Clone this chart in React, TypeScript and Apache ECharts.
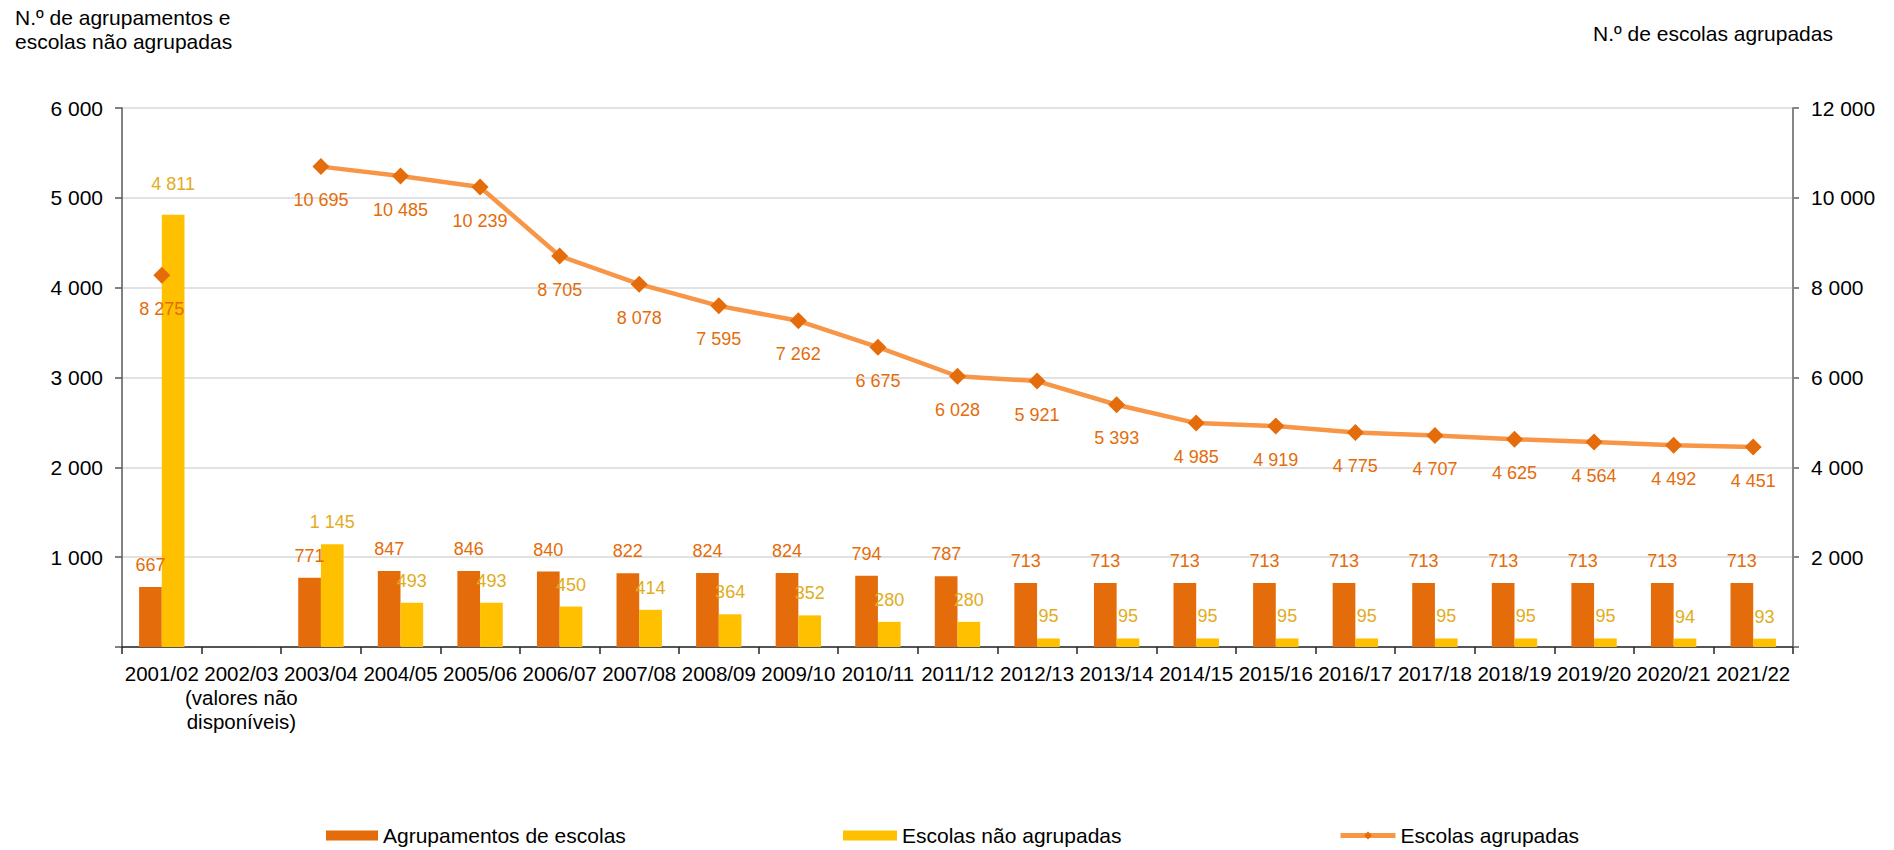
import React, { useEffect, useRef } from 'react';
import * as echarts from 'echarts';

const categories = [
  '2001/02',
  '2002/03\n(valores não\ndisponíveis)',
  '2003/04',
  '2004/05',
  '2005/06',
  '2006/07',
  '2007/08',
  '2008/09',
  '2009/10',
  '2010/11',
  '2011/12',
  '2012/13',
  '2013/14',
  '2014/15',
  '2015/16',
  '2016/17',
  '2017/18',
  '2018/19',
  '2019/20',
  '2020/21',
  '2021/22',
];

const agrupamentos = [667, null, 771, 847, 846, 840, 822, 824, 824, 794, 787, 713, 713, 713, 713, 713, 713, 713, 713, 713, 713];
const escolasNaoAgrupadas = [4811, null, 1145, 493, 493, 450, 414, 364, 352, 280, 280, 95, 95, 95, 95, 95, 95, 95, 95, 94, 93];
const escolasAgrupadas = [8275, null, 10695, 10485, 10239, 8705, 8078, 7595, 7262, 6675, 6028, 5921, 5393, 4985, 4919, 4775, 4707, 4625, 4564, 4492, 4451];

const seriesNames = ['Agrupamentos de escolas', 'Escolas não agrupadas', 'Escolas agrupadas'];
const leftAxisTitle = ['N.º de agrupamentos e', 'escolas não agrupadas'];
const rightAxisTitle = 'N.º de escolas agrupadas';

const FONT = '"Liberation Sans", Arial, sans-serif';
const ORANGE = '#E46C0A';
const YELLOW = '#FFC000';
const YELLOW_LABEL = '#E2AC1C';
const LINE = '#F79646';

const fmt = (v: any) => {
  const n = typeof v === 'object' && v !== null ? v.value : v;
  if (n === null || n === undefined || n === '-') return '';
  return String(n).replace(/\B(?=(\d{3})+(?!\d))/g, ' ');
};

export default function App() {
  const ref = useRef<HTMLDivElement>(null);

  useEffect(() => {
    if (!ref.current) return;
    const chart = echarts.init(ref.current, null, { renderer: 'svg' });

    const naoData = escolasNaoAgrupadas.map((v, i) =>
      i === 0 ? { value: v, label: { distance: 22 } } : v
    );

    const legendText = { fontFamily: FONT, fontSize: 21, color: '#000' };

    const option: any = {
      animation: false,
      backgroundColor: '#ffffff',
      textStyle: { fontFamily: FONT },
      grid: { left: 122, right: 101, top: 108, bottom: 203, containLabel: false },
      legend: [
        {
          data: [seriesNames[0]],
          left: 326,
          top: 825,
          padding: 0,
          itemWidth: 52,
          itemHeight: 10,
          icon: 'rect',
          textStyle: legendText,
        },
        {
          data: [seriesNames[1]],
          left: 843,
          top: 825,
          padding: 0,
          itemWidth: 54,
          itemHeight: 10,
          icon: 'rect',
          textStyle: legendText,
        },
        {
          data: [seriesNames[2]],
          left: 1338,
          top: 825,
          padding: 0,
          itemWidth: 55,
          itemHeight: 10,
          lineStyle: { width: 5, color: LINE },
          textStyle: legendText,
        },
      ],
      xAxis: {
        type: 'category',
        data: categories,
        boundaryGap: true,
        axisLine: { show: true, lineStyle: { color: '#262626', width: 1.5 } },
        axisTick: { show: true, length: 7, lineStyle: { color: '#262626', width: 1.5 } },
        axisLabel: {
          interval: 0,
          margin: 14,
          fontFamily: FONT,
          fontSize: 20.5,
          lineHeight: 24,
          color: '#000',
        },
      },
      yAxis: [
        {
          type: 'value',
          min: 0,
          max: 6000,
          interval: 1000,
          axisLine: { show: true, lineStyle: { color: '#595959', width: 1.5 } },
          axisTick: { show: true, length: 7, lineStyle: { color: '#595959', width: 1.5 } },
          axisLabel: {
            margin: 19,
            fontFamily: FONT,
            fontSize: 21,
            color: '#000',
            formatter: (v: number) => (v === 0 ? '' : fmt(v)),
          },
          splitLine: { show: true, lineStyle: { color: '#D9D9D9', width: 1.5 } },
        },
        {
          type: 'value',
          min: 0,
          max: 12000,
          interval: 2000,
          position: 'right',
          axisLine: { show: true, lineStyle: { color: '#868686', width: 2 } },
          axisTick: { show: true, length: 6, lineStyle: { color: '#868686', width: 2 } },
          axisLabel: {
            margin: 18,
            fontFamily: FONT,
            fontSize: 21,
            color: '#000',
            formatter: (v: number) => (v === 0 ? '' : fmt(v)),
          },
          splitLine: { show: false },
        },
      ],
      series: [
        {
          name: seriesNames[0],
          type: 'bar',
          yAxisIndex: 0,
          data: agrupamentos,
          barWidth: 22.7,
          barGap: '0%',
          itemStyle: { color: ORANGE },
          label: {
            show: true,
            position: 'top',
            distance: 13,
            fontFamily: FONT,
            fontSize: 18,
            color: ORANGE,
            formatter: (p: any) => fmt(p.value),
          },
        },
        {
          name: seriesNames[1],
          type: 'bar',
          yAxisIndex: 0,
          data: naoData,
          barWidth: 22.7,
          barGap: '0%',
          itemStyle: { color: YELLOW },
          label: {
            show: true,
            position: 'top',
            distance: 13,
            fontFamily: FONT,
            fontSize: 18,
            color: YELLOW_LABEL,
            formatter: (p: any) => fmt(p.value),
          },
        },
        {
          name: seriesNames[2],
          type: 'line',
          yAxisIndex: 1,
          data: escolasAgrupadas,
          connectNulls: false,
          symbol: 'diamond',
          symbolSize: 17,
          lineStyle: { color: LINE, width: 4.5 },
          itemStyle: { color: ORANGE },
          label: {
            show: true,
            position: 'bottom',
            distance: 16,
            fontFamily: FONT,
            fontSize: 18,
            color: ORANGE,
            formatter: (p: any) => fmt(p.value),
          },
          z: 5,
        },
      ],
      graphic: [
        {
          type: 'text',
          left: 15,
          top: 5,
          style: {
            text: leftAxisTitle.join('\n'),
            fontFamily: FONT,
            fontSize: 21,
            lineHeight: 24,
            fill: '#000',
          },
        },
        {
          type: 'text',
          left: 1593,
          top: 21,
          style: {
            text: rightAxisTitle,
            fontFamily: FONT,
            fontSize: 21,
            lineHeight: 24,
            fill: '#000',
          },
        },
      ],
    };

    chart.setOption(option);
    return () => chart.dispose();
  }, []);

  return (
    <div
      ref={ref}
      style={{ position: 'fixed', left: 0, top: 0, width: 1894, height: 850, background: '#fff' }}
    />
  );
}
